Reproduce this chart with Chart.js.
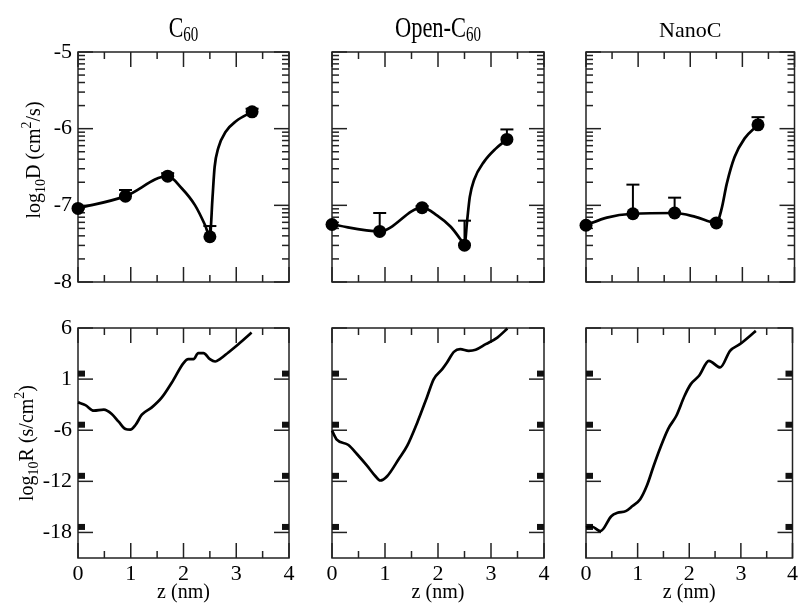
<!DOCTYPE html>
<html>
<head>
<meta charset="utf-8">
<title>log D and log R profiles</title>
<script src="https://cdn.jsdelivr.net/npm/chart.js@4.4.0/dist/chart.umd.min.js"></script>
<style>
  body { margin: 0; background: #fff; }
  #wrap { position: relative; width: 801px; height: 603px; }
  #wrap canvas { position: absolute; left: 0; top: 0; }
</style>
</head>
<body>
<div id="wrap">
  <canvas id="dC60" width="801" height="603"></canvas>
  <canvas id="dOpen" width="801" height="603"></canvas>
  <canvas id="dNano" width="801" height="603"></canvas>
  <canvas id="rC60" width="801" height="603"></canvas>
  <canvas id="rOpen" width="801" height="603"></canvas>
  <canvas id="rNano" width="801" height="603"></canvas>
</div>
<script>
// ---- values ----
const zTicks = [0, 1, 2, 3, 4];
const dTicks = [-8, -7, -6, -5];
const rTicks = [6, 0, -6, -12, -18];
const rTickLabels = ['6', '1', '-6', '-12', '-18'];

// simulated points (z in nm) + upper error caps
const zPoints = [0, 0.9, 1.7, 2.5, 3.3];
const c60D = [-7.04, -6.88, -6.62, -7.41, -5.78];
const c60DUpper = [null, -6.80, -6.58, -7.27, -5.74];
const openD = [-7.25, -7.34, -7.03, -7.52, -6.14];
const openDUpper = [null, -7.10, -7.01, -7.20, -6.01];
const nanoD = [-7.26, -7.11, -7.10, -7.23, -5.95];
const nanoDUpper = [null, -6.73, -6.90, -7.20, -5.85];

// smooth curves through the points
const c60FitZ = [0, 0.9, 1.7, 1.97, 2.22, 2.41, 2.5, 2.55, 2.59, 2.66, 2.8, 3.0, 3.3];
const c60FitD = [-7.04, -6.88, -6.62, -6.78, -7.0, -7.26, -7.41, -6.9, -6.5, -6.25, -6.04, -5.9, -5.78];
const openFitZ = [0, 0.9, 1.7, 1.98, 2.24, 2.42, 2.5, 2.55, 2.6, 2.68, 2.87, 3.09, 3.3];
const openFitD = [-7.25, -7.34, -7.03, -7.13, -7.28, -7.44, -7.52, -7.2, -6.89, -6.67, -6.43, -6.26, -6.14];
const nanoFitZ = [0, 0.4, 0.9, 1.7, 2.1, 2.5, 2.6, 2.7, 2.85, 3.04, 3.3];
const nanoFitD = [-7.26, -7.16, -7.11, -7.10, -7.15, -7.23, -7.05, -6.72, -6.37, -6.13, -5.95];

// resistance profiles
const c60RZ = [0, 0.14, 0.30, 0.49, 0.64, 0.77, 0.90, 0.99, 1.09, 1.21, 1.40, 1.59, 1.78, 2.00, 2.09, 2.19, 2.28, 2.38, 2.50, 2.60, 2.69, 2.85, 3.04, 3.29];
const c60R = [-2.73, -3.05, -3.71, -3.59, -4.10, -5.0, -5.86, -5.94, -5.39, -4.18, -3.32, -2.15, -0.39, 1.88, 2.34, 2.34, 3.05, 3.05, 2.34, 2.07, 2.34, 3.13, 4.10, 5.47];
const openRZ = [0, 0.09, 0.31, 0.47, 0.66, 0.82, 0.91, 1.04, 1.26, 1.42, 1.61, 1.79, 1.92, 2.08, 2.17, 2.30, 2.42, 2.58, 2.71, 2.90, 3.12, 3.31];
const openR = [-6.05, -7.1, -7.73, -8.79, -10.16, -11.4, -11.9, -11.4, -9.38, -7.81, -5.08, -2.15, 0, 1.17, 1.95, 3.2, 3.52, 3.32, 3.44, 4.10, 4.88, 5.94];
const nanoRZ = [0, 0.11, 0.28, 0.49, 0.61, 0.77, 0.90, 1.05, 1.18, 1.31, 1.43, 1.59, 1.75, 1.91, 2.03, 2.19, 2.38, 2.60, 2.79, 2.98, 3.29];
const nanoR = [-17.4, -17.3, -17.85, -16.1, -15.7, -15.5, -14.9, -14.1, -12.5, -10.2, -8.2, -5.86, -4.30, -1.95, -0.59, 0.39, 2.15, 1.37, 3.32, 4.10, 5.66];

// ---- layout ----
const W = 801, H = 603;
const colLeft = [78, 332, 586];
const colRight = [289, 544, 798];
const rowTop = [52, 328];
const rowBottom = [282, 558];
const yAxisW = 70;   // room for tick labels in the left column
const xAxisH = 40;   // room for tick labels in the bottom row
const serif = "'Liberation Serif', 'Times New Roman', serif";

const pts = (xs, ys) => xs.map((x, i) => ({ x: x, y: ys[i] }));

function seg(ctx, x1, y1, x2, y2) {
  ctx.beginPath();
  ctx.moveTo(x1, y1);
  ctx.lineTo(x2, y2);
  ctx.stroke();
}

// parts: [text, size, dy, scaleX]
function drawParts(ctx, parts, cx, y) {
  let total = 0;
  parts.forEach(p => {
    ctx.font = p[1] + 'px ' + serif;
    total += ctx.measureText(p[0]).width * (p[3] || 1);
  });
  let x = cx - total / 2;
  parts.forEach(p => {
    const sx = p[3] || 1;
    ctx.font = p[1] + 'px ' + serif;
    ctx.save();
    ctx.translate(x, y + (p[2] || 0));
    ctx.scale(sx, 1);
    ctx.fillText(p[0], 0, 0);
    ctx.restore();
    x += ctx.measureText(p[0]).width * sx;
  });
}

const panelDecor = {
  id: 'panelDecor',
  beforeDatasetsDraw(chart, args, o) {
    const ctx = chart.ctx, a = chart.chartArea;
    const xs = chart.scales.x, ys = chart.scales.y;
    ctx.save();
    ctx.strokeStyle = '#222';
    ctx.fillStyle = '#111';
    ctx.lineWidth = 1.5;
    ctx.strokeRect(a.left, a.top, a.right - a.left, a.bottom - a.top);

    // inward x ticks, top and bottom
    for (let v = 0; v <= 4; v += 0.5) {
      const px = xs.getPixelForValue(v);
      const len = v % 1 === 0 ? 15 : 7;
      seg(ctx, px, a.bottom, px, a.bottom - len);
      seg(ctx, px, a.top, px, a.top + len);
    }
    // inward y ticks, left and right
    o.yMajor.forEach(v => {
      const py = ys.getPixelForValue(v);
      seg(ctx, a.left, py, a.left + 15, py);
      seg(ctx, a.right, py, a.right - 15, py);
      if (o.blocks && v < 6) {
        ctx.fillRect(a.left, py - 8.5, 7, 6);
        ctx.fillRect(a.right - 7, py - 8.5, 7, 6);
      }
    });
    if (o.logMinor) {
      for (let d = -8; d < -5; d++) {
        for (let k = 2; k <= 9; k++) {
          const py = ys.getPixelForValue(d + Math.log10(k));
          seg(ctx, a.left, py, a.left + 7, py);
          seg(ctx, a.right, py, a.right - 7, py);
        }
      }
    }

    // one-sided error bars
    if (o.errUpper) {
      ctx.strokeStyle = '#000';
      ctx.lineWidth = 2;
      o.errUpper.forEach((u, i) => {
        if (u === null) return;
        const px = xs.getPixelForValue(zPoints[i]);
        const py0 = ys.getPixelForValue(o.values[i]);
        const py1 = ys.getPixelForValue(u);
        seg(ctx, px, py0, px, py1);
        seg(ctx, px - 6.5, py1, px + 6.5, py1);
      });
    }
    ctx.restore();
  },
  afterDraw(chart, args, o) {
    const ctx = chart.ctx, a = chart.chartArea;
    const cx = (a.left + a.right) / 2;
    ctx.save();
    ctx.fillStyle = '#000';
    ctx.textBaseline = 'alphabetic';
    if (o.title) drawParts(ctx, o.title, cx, 37);
    if (o.xTitle) drawParts(ctx, [['z (nm)', 20]], cx, 598);
    if (o.yTitle) {
      ctx.translate(o.yTitle.x, o.yTitle.y);
      ctx.rotate(-Math.PI / 2);
      drawParts(ctx, o.yTitle.parts, 0, 0);
    }
    ctx.restore();
  }
};

function makePanel(id, col, row, datasets, decor) {
  const isD = row === 0;
  const showY = col === 0, showX = row === 1;
  const yw = showY ? yAxisW : 0, xh = showX ? xAxisH : 0;
  const tickFont = { family: serif, size: 22 };
  return new Chart(document.getElementById(id), {
    type: 'scatter',
    data: { datasets: datasets },
    options: {
      responsive: false,
      animation: false,
      events: [],
      layout: {
        padding: {
          left: colLeft[col] - yw, right: W - colRight[col],
          top: rowTop[row], bottom: H - rowBottom[row] - xh
        }
      },
      plugins: {
        legend: { display: false },
        tooltip: { enabled: false },
        panelDecor: decor
      },
      scales: {
        x: {
          type: 'linear', min: 0, max: 4,
          grid: { display: false, drawTicks: false },
          border: { display: false },
          afterFit: s => { s.height = xh; },
          afterBuildTicks: s => { s.ticks = zTicks.map(v => ({ value: v })); },
          ticks: {
            display: showX, padding: 3, color: '#000', font: tickFont,
            autoSkip: false, maxRotation: 0, callback: v => String(v)
          }
        },
        y: {
          type: 'linear',
          min: isD ? -8 : -21, max: isD ? -5 : 6,
          grid: { display: false, drawTicks: false },
          border: { display: false },
          afterFit: s => { s.width = yw; },
          afterBuildTicks: s => { s.ticks = (isD ? dTicks : rTicks).map(v => ({ value: v })); },
          ticks: {
            display: showY, padding: 6, color: '#000', font: tickFont,
            autoSkip: false,
            callback: v => isD ? String(v) : rTickLabels[rTicks.indexOf(v)]
          }
        }
      }
    },
    plugins: [panelDecor]
  });
}

function dSets(fitZ, fitD, vals) {
  return [
    { data: pts(zPoints, vals), showLine: false, pointRadius: 6.5, pointBorderWidth: 0,
      backgroundColor: '#000', clip: false },
    { data: pts(fitZ, fitD), showLine: true, borderColor: '#000', borderWidth: 2.7,
      pointRadius: 0, cubicInterpolationMode: 'monotone', clip: false }
  ];
}

function rSets(z, r) {
  return [
    { data: pts(z, r), showLine: true, borderColor: '#000', borderWidth: 2.7,
      pointRadius: 0, cubicInterpolationMode: 'monotone', clip: false }
  ];
}

const dTitle = { x: 39.5, y: 160, parts: [['log', 20], ['10', 14, 5], ['D (cm', 20], ['2', 14, -9], ['/s)', 20]] };
const rTitle = { x: 32.5, y: 443, parts: [['log', 20], ['10', 14, 5], ['R (s/cm', 20], ['2', 14, -9], [')', 20]] };

makePanel('dC60', 0, 0, dSets(c60FitZ, c60FitD, c60D), {
  yMajor: dTicks, logMinor: true, values: c60D, errUpper: c60DUpper,
  title: [['C', 30, 0, 0.73], ['60', 20, 4, 0.75]], yTitle: dTitle
});
makePanel('dOpen', 1, 0, dSets(openFitZ, openFitD, openD), {
  yMajor: dTicks, logMinor: true, values: openD, errUpper: openDUpper,
  title: [['Open-C', 30, 0, 0.75], ['60', 20, 4, 0.75]]
});
makePanel('dNano', 2, 0, dSets(nanoFitZ, nanoFitD, nanoD), {
  yMajor: dTicks, logMinor: true, values: nanoD, errUpper: nanoDUpper,
  title: [['NanoC', 22]]
});
makePanel('rC60', 0, 1, rSets(c60RZ, c60R), { yMajor: rTicks, blocks: true, xTitle: true, yTitle: rTitle });
makePanel('rOpen', 1, 1, rSets(openRZ, openR), { yMajor: rTicks, blocks: true, xTitle: true });
makePanel('rNano', 2, 1, rSets(nanoRZ, nanoR), { yMajor: rTicks, blocks: true, xTitle: true });
</script>
</body>
</html>
